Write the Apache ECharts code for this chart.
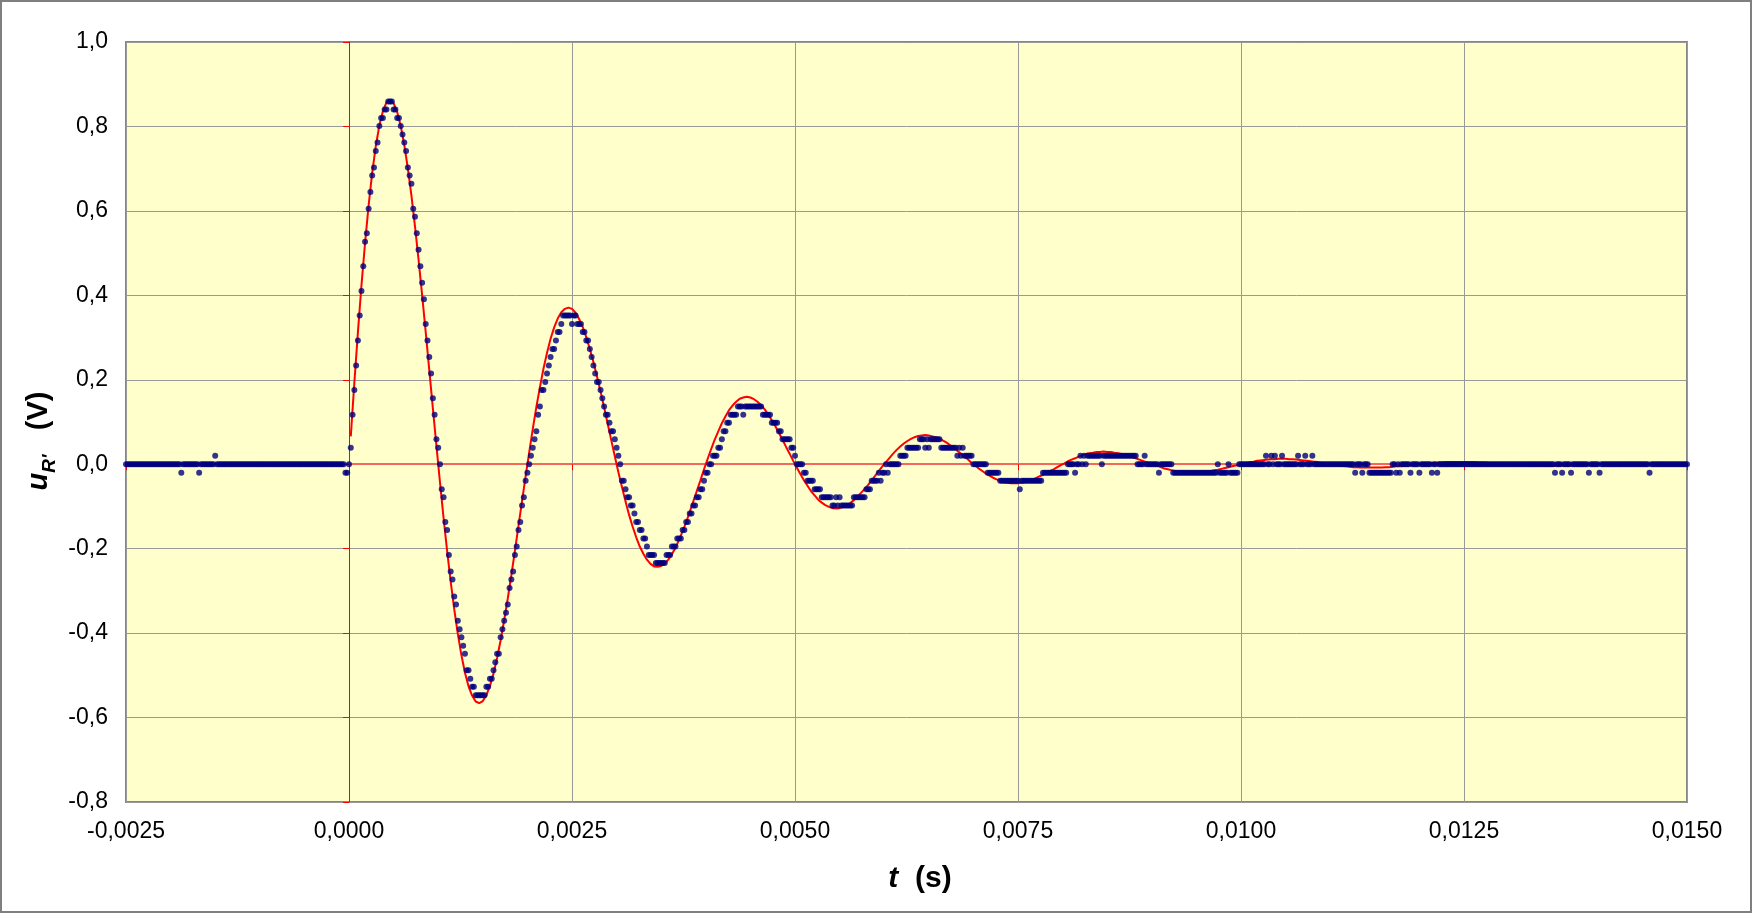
<!DOCTYPE html>
<html>
<head>
<meta charset="utf-8">
<title>u_R'(t)</title>
<script src="https://cdn.jsdelivr.net/npm/echarts@6/dist/echarts.min.js"></script>
<style>
  html, body { margin: 0; padding: 0; background: #fff; }
  #chart { width: 1752px; height: 914px; }
</style>
</head>
<body>
<div id="chart"></div>
<script>
// axes
var tMin = -0.0025, tMax = 0.015, tStep = 0.0025;
var uMin = -0.8, uMax = 1.0, uStep = 0.2;

// measured points (blue): one sample every 20 us from t = -2,5 ms
var sampleStart = -0.0025;
var sampleStep = 0.00002;
var preTrigger = [
  0,0,0,0,0, 0,0,0,0,0, 0,0,0,0,0, 0,0,0,0,0, 0,0,0,0,0,
  0,0,0,0,0, 0,-0.020,0,0,0, 0,0,0,0,0, 0,-0.020,0,0,0, 0,0,0,0,0,
  0.020,0,0,0,0, 0,0,0,0,0, 0,0,0,0,0, 0,0,0,0,0, 0,0,0,0,0,
  0,0,0,0,0, 0,0,0,0,0, 0,0,0,0,0, 0,0,0,0,0, 0,0,0,0,0,
  0,0,0,0,0, 0,0,0,0,0, 0,0,0,0,0, 0,0,0,0,0, 0,0,0,-0.020,-0.020
];
var measured = [
  0, 0.039, 0.117, 0.176, 0.234, 0.293, 0.352, 0.410, 0.469, 0.527,
  0.547, 0.605, 0.645, 0.684, 0.703, 0.742, 0.762, 0.801, 0.820, 0.820,
  0.840, 0.840, 0.859, 0.859, 0.859, 0.840, 0.840, 0.820, 0.820, 0.801,
  0.781, 0.762, 0.742, 0.703, 0.684, 0.664, 0.605, 0.586, 0.547, 0.508,
  0.469, 0.430, 0.391, 0.332, 0.293, 0.254, 0.215, 0.156, 0.117, 0.059,
  0.039, 0, -0.059, -0.078, -0.137, -0.156, -0.215, -0.254, -0.273, -0.313,
  -0.332, -0.371, -0.391, -0.410, -0.430, -0.449, -0.488, -0.488, -0.508, -0.527,
  -0.527, -0.547, -0.547, -0.547, -0.547, -0.547, -0.547, -0.527, -0.527, -0.508,
  -0.508, -0.488, -0.469, -0.449, -0.449, -0.410, -0.391, -0.371, -0.352, -0.332,
  -0.293, -0.273, -0.254, -0.215, -0.195, -0.156, -0.137, -0.098, -0.078, -0.039,
  -0.020, 0, 0.020, 0.039, 0.059, 0.078, 0.117, 0.137, 0.176, 0.176,
  0.195, 0.215, 0.234, 0.254, 0.273, 0.273, 0.293, 0.313, 0.313, 0.332,
  0.352, 0.352, 0.352, 0.352, 0.352, 0.332, 0.352, 0.352, 0.332, 0.332,
  0.332, 0.313, 0.313, 0.293, 0.293, 0.273, 0.254, 0.234, 0.215, 0.195,
  0.195, 0.176, 0.156, 0.137, 0.117, 0.117, 0.098, 0.078, 0.078, 0.059,
  0.039, 0.020, 0, -0.039, -0.039, -0.059, -0.078, -0.078, -0.098, -0.098,
  -0.117, -0.137, -0.137, -0.156, -0.156, -0.176, -0.176, -0.195, -0.215, -0.215,
  -0.215, -0.215, -0.234, -0.234, -0.234, -0.234, -0.234, -0.234, -0.215, -0.215,
  -0.215, -0.195, -0.195, -0.195, -0.176, -0.176, -0.176, -0.156, -0.156, -0.137,
  -0.137, -0.117, -0.117, -0.098, -0.098, -0.078, -0.078, -0.059, -0.059, -0.039,
  -0.020, -0.020, 0, 0, 0.020, 0.020, 0.020, 0.039, 0.039, 0.059,
  0.078, 0.078, 0.098, 0.098, 0.117, 0.117, 0.117, 0.117, 0.137, 0.137,
  0.137, 0.117, 0.137, 0.137, 0.137, 0.137, 0.137, 0.137, 0.137, 0.137,
  0.137, 0.137, 0.117, 0.117, 0.117, 0.117, 0.117, 0.098, 0.098, 0.098,
  0.098, 0.078, 0.078, 0.059, 0.059, 0.059, 0.059, 0.059, 0.039, 0.039,
  0.020, 0, 0, 0, 0, -0.020, -0.020, -0.039, -0.039, -0.039,
  -0.039, -0.059, -0.059, -0.059, -0.059, -0.078, -0.078, -0.078, -0.078, -0.078,
  -0.078, -0.098, -0.098, -0.078, -0.098, -0.078, -0.098, -0.098, -0.098, -0.098,
  -0.098, -0.098, -0.098, -0.078, -0.078, -0.078, -0.078, -0.078, -0.078, -0.078,
  -0.059, -0.059, -0.059, -0.039, -0.039, -0.039, -0.039, -0.020, -0.039, -0.020,
  -0.020, 0, -0.020, 0, 0, 0, 0, 0, 0, 0.020,
  0.020, 0.020, 0.020, 0.039, 0.039, 0.039, 0.039, 0.039, 0.039, 0.039,
  0.059, 0.059, 0.059, 0.039, 0.059, 0.039, 0.059, 0.059, 0.059, 0.059,
  0.059, 0.059, 0.039, 0.039, 0.039, 0.039, 0.039, 0.039, 0.039, 0.039,
  0.039, 0.020, 0.039, 0.020, 0.039, 0.020, 0.020, 0.020, 0.020, 0.020,
  0, 0, 0, 0, 0, 0, 0, 0, -0.020, -0.020,
  -0.020, -0.020, -0.020, -0.020, -0.020, -0.039, -0.039, -0.039, -0.039, -0.039,
  -0.039, -0.039, -0.039, -0.039, -0.039, -0.039, -0.059, -0.039, -0.039, -0.039,
  -0.039, -0.039, -0.039, -0.039, -0.039, -0.039, -0.039, -0.039, -0.039, -0.020,
  -0.020, -0.020, -0.020, -0.020, -0.020, -0.020, -0.020, -0.020, -0.020, -0.020,
  -0.020, -0.020, -0.020, 0, 0, 0, 0, -0.020, 0, 0,
  0.020, 0, 0.020, 0, 0.020, 0.020, 0.020, 0.020, 0.020, 0.020,
  0.020, 0.020, 0, 0.020, 0.020, 0.020, 0.020, 0.020, 0.020, 0.020,
  0.020, 0.020, 0.020, 0.020, 0.020, 0.020, 0.020, 0.020, 0.020, 0.020,
  0.020, 0.020, 0, 0, 0, 0, 0.020, 0, 0, 0,
  0, 0, 0, 0, -0.020, 0, 0, 0, 0, 0,
  0, 0, -0.020, -0.020, -0.020, -0.020, -0.020, -0.020, -0.020, -0.020,
  -0.020, -0.020, -0.020, -0.020, -0.020, -0.020, -0.020, -0.020, -0.020, -0.020,
  -0.020, -0.020, -0.020, -0.020, -0.020, -0.020, -0.020, 0, -0.020, -0.020,
  -0.020, -0.020, -0.020, 0, -0.020, -0.020, -0.020, -0.020, -0.020, 0,
  0, 0, 0, 0, 0, 0, 0, 0, 0, 0,
  0, 0, 0, 0, 0.020, 0, 0, 0.020, 0, 0.020,
  0, 0, 0, 0.020, 0, 0, 0, 0, 0, 0,
  0, 0, 0.020, 0, 0, 0, 0.020, 0, 0, 0,
  0.020, 0, 0, 0, 0, 0, 0, 0, 0, 0,
  0, 0, 0, 0, 0, 0, 0, 0, 0, 0,
  0, 0, 0, 0, -0.020, 0, 0, 0, -0.020, 0,
  0, 0, -0.020, -0.020, -0.020, -0.020, -0.020, -0.020, -0.020, -0.020,
  -0.020, -0.020, -0.020, -0.020, -0.020, 0, 0, -0.020, 0, -0.020,
  0, 0, 0, 0, 0, -0.020, 0, 0, 0, 0,
  -0.020, 0, 0, 0, 0, 0, 0, -0.020, 0, 0,
  -0.020, 0, 0, 0, 0, 0, 0, 0, 0, 0,
  0, 0, 0, 0, 0, 0, 0, 0, 0, 0,
  0, 0, 0, 0, 0, 0, 0, 0, 0, 0,
  0, 0, 0, 0, 0, 0, 0, 0, 0, 0,
  0, 0, 0, 0, 0, 0, 0, 0, 0, 0,
  0, 0, 0, 0, 0, 0, 0, 0, 0, 0,
  0, 0, 0, 0, 0, 0, -0.020, 0, 0, 0,
  -0.020, 0, 0, 0, 0, -0.020, 0, 0, 0, 0,
  0, 0, 0, 0, 0, -0.020, 0, 0, 0, 0,
  0, -0.020, 0, 0, 0, 0, 0, 0, 0, 0,
  0, 0, 0, 0, 0, 0, 0, 0, 0, 0,
  0, 0, 0, 0, 0, 0, 0, 0, 0, -0.020,
  0, 0, 0, 0, 0, 0, 0, 0, 0, 0,
  0, 0, 0, 0, 0, 0, 0, 0, 0, 0,
  0
];

// fitted curve (red): one point every 40 us from t = 20 us
var modelStart = 0.00002;
var modelStep = 0.00004;
var model = [
  0.066, 0.193, 0.313, 0.424, 0.524, 0.613, 0.690, 0.753, 0.802, 0.836, 0.857, 0.863, 0.855, 0.834, 0.801, 0.756, 0.700, 0.636, 0.563, 0.484, 0.400, 0.313, 0.223, 0.133, 0.044,
  -0.043, -0.127, -0.205, -0.278, -0.344, -0.402, -0.452, -0.494, -0.526, -0.548, -0.562, -0.566, -0.561, -0.547, -0.525, -0.496, -0.459, -0.417, -0.369, -0.318, -0.263, -0.205, -0.146, -0.087, -0.029,
  0.028, 0.083, 0.135, 0.182, 0.226, 0.264, 0.297, 0.324, 0.345, 0.360, 0.368, 0.371, 0.368, 0.359, 0.344, 0.325, 0.301, 0.273, 0.242, 0.208, 0.172, 0.135, 0.096, 0.057, 0.019,
  -0.019, -0.054, -0.088, -0.120, -0.148, -0.173, -0.195, -0.212, -0.226, -0.236, -0.242, -0.243, -0.241, -0.235, -0.226, -0.213, -0.198, -0.179, -0.159, -0.137, -0.113, -0.088, -0.063, -0.038, -0.012,
  0.012, 0.036, 0.058, 0.078, 0.097, 0.113, 0.128, 0.139, 0.148, 0.155, 0.158, 0.160, 0.158, 0.154, 0.148, 0.140, 0.130, 0.118, 0.104, 0.090, 0.074, 0.058, 0.041, 0.025, 0.008,
  -0.008, -0.023, -0.038, -0.051, -0.064, -0.074, -0.084, -0.091, -0.097, -0.101, -0.104, -0.105, -0.104, -0.101, -0.097, -0.092, -0.085, -0.077, -0.068, -0.059, -0.049, -0.038, -0.027, -0.016, -0.005,
  0.005, 0.015, 0.025, 0.034, 0.042, 0.049, 0.055, 0.060, 0.064, 0.067, 0.068, 0.069, 0.068, 0.066, 0.064, 0.060, 0.056, 0.051, 0.045, 0.039, 0.032, 0.025, 0.018, 0.011, 0.003,
  -0.003, -0.010, -0.016, -0.022, -0.027, -0.032, -0.036, -0.039, -0.042, -0.044, -0.045, -0.045, -0.045, -0.044, -0.042, -0.039, -0.037, -0.033, -0.029, -0.025, -0.021, -0.016, -0.012, -0.007, -0.002,
  0.002, 0.007, 0.011, 0.014, 0.018, 0.021, 0.024, 0.026, 0.027, 0.029, 0.029, 0.030, 0.029, 0.029, 0.027, 0.026, 0.024, 0.022, 0.019, 0.017, 0.014, 0.011, 0.008, 0.005, 0.002,
  -0.001, -0.004, -0.007, -0.010, -0.012, -0.014, -0.016, -0.017, -0.018, -0.019, -0.019, -0.019, -0.019, -0.019, -0.018, -0.017, -0.016, -0.014, -0.013, -0.011, -0.009, -0.007, -0.005, -0.003, -0.001,
  0.001, 0.003, 0.005, 0.006, 0.008, 0.009, 0.010, 0.011, 0.012, 0.012, 0.013, 0.013, 0.013, 0.012, 0.012, 0.011, 0.010, 0.009, 0.008, 0.007, 0.006, 0.005, 0.003, 0.002, 0.001,
  -0.001, -0.002, -0.003, -0.004, -0.005, -0.006, -0.007, -0.007, -0.008, -0.008, -0.008, -0.008, -0.008, -0.008, -0.008, -0.007, -0.007, -0.006, -0.005, -0.005, -0.004, -0.003, -0.002, -0.001, 0,
  0, 0.001, 0.002, 0.003, 0.003, 0.004, 0.004, 0.005, 0.005, 0.005, 0.005, 0.005, 0.005, 0.005, 0.005, 0.005, 0.004, 0.004, 0.004, 0.003, 0.003, 0.002, 0.001, 0.001, 0,
  0, -0.001, -0.001, -0.002, -0.002, -0.003, -0.003, -0.003, -0.003, -0.003, -0.004, -0.004, -0.004, -0.003, -0.003, -0.003, -0.003, -0.003, -0.002, -0.002, -0.002, -0.001, -0.001, -0.001, 0,
  0, 0.001, 0.001, 0.001, 0.001, 0.002, 0.002, 0.002, 0.002, 0.002, 0.002, 0.002, 0.002, 0.002, 0.002, 0.002, 0.002, 0.002, 0.002, 0.001, 0.001, 0.001, 0.001, 0, 0
];

var blueData = preTrigger.concat(measured).map(function (v, i) {
  return [sampleStart + i * sampleStep, v];
});
var redData = model.map(function (v, i) {
  return [modelStart + i * modelStep, v];
});

function comma(digits) {
  return function (v) {
    if (Math.abs(v) < 1e-12) v = 0;
    return v.toFixed(digits).replace('.', ',');
  };
}

var font = 'Liberation Sans';
var chart = echarts.init(document.getElementById('chart'));
var option = {
  animation: false,
  backgroundColor: '#ffffff',
  textStyle: { fontFamily: font },
  grid: {
    left: 126, right: 65, top: 42, bottom: 112,
    outerBoundsMode: 'none',
    show: true,
    backgroundColor: '#ffffcc',
    borderColor: '#868686',
    borderWidth: 2
  },
  xAxis: [
    {
      type: 'value', min: tMin, max: tMax, interval: tStep, position: 'bottom',
      axisLine: { show: false, onZero: false },
      axisTick: { show: false },
      axisLabel: { margin: 18, fontSize: 23, fontFamily: font, color: '#000', formatter: comma(4) },
      splitLine: { show: true, lineStyle: { color: '#999999', width: 1 } }
    },
    {
      type: 'value', min: tMin, max: tMax, interval: tStep, position: 'bottom',
      axisLine: { show: true, onZero: true, lineStyle: { color: '#f3675c', width: 2 } },
      axisTick: { show: true, length: 6, lineStyle: { color: '#ff0000', width: 1 } },
      axisLabel: { show: false },
      splitLine: { show: false }
    }
  ],
  yAxis: [
    {
      type: 'value', min: uMin, max: uMax, interval: uStep, position: 'left',
      axisLine: { show: false, onZero: false },
      axisTick: { show: false },
      axisLabel: { margin: 18, fontSize: 23, fontFamily: font, color: '#000', formatter: comma(1) },
      splitLine: { show: true, lineStyle: { color: '#999999', width: 1 } }
    },
    {
      type: 'value', min: uMin, max: uMax, interval: uStep, position: 'left',
      axisLine: { show: true, onZero: true, lineStyle: { color: '#ff0000', width: 1 } },
      axisTick: { show: true, length: 6, lineStyle: { color: '#ff0000', width: 1 } },
      axisLabel: { show: false },
      splitLine: { show: false }
    }
  ],
  series: [
    {
      name: 'modele', type: 'line', xAxisIndex: 0, yAxisIndex: 0,
      data: redData, showSymbol: false, smooth: false,
      lineStyle: { color: '#ff0000', width: 2 }, z: 2
    },
    {
      name: 'mesure', type: 'scatter', xAxisIndex: 0, yAxisIndex: 0,
      data: blueData, symbol: 'circle', symbolSize: 6,
      itemStyle: { color: '#000080' }, z: 3
    }
  ],
  graphic: [
    {
      type: 'rect', silent: true, z: 100,
      shape: { x: 1, y: 1, width: 1750, height: 911 },
      style: { fill: 'none', stroke: '#7f7f7f', lineWidth: 2 }
    },
    {
      type: 'text', silent: true, x: 42, y: 441, rotation: Math.PI / 2,
      style: {
        text: '{u|u}{r|R\'}{v|   (V)}',
        align: 'center', verticalAlign: 'middle', fill: '#000',
        rich: {
          u: { fontFamily: font, fontSize: 29, fontWeight: 'bold', fontStyle: 'italic', padding: [0, 0, 6, 0], verticalAlign: 'bottom' },
          r: { fontFamily: font, fontSize: 19, fontWeight: 'bold', fontStyle: 'italic', verticalAlign: 'bottom' },
          v: { fontFamily: font, fontSize: 29, fontWeight: 'bold', padding: [0, 0, 6, 0], verticalAlign: 'bottom' }
        }
      }
    },
    {
      type: 'text', silent: true, x: 920, y: 879,
      style: {
        text: '{t|t}{s|  (s)}',
        align: 'center', verticalAlign: 'middle', fill: '#000',
        rich: {
          t: { fontFamily: font, fontSize: 30, fontWeight: 'bold', fontStyle: 'italic' },
          s: { fontFamily: font, fontSize: 30, fontWeight: 'bold' }
        }
      }
    }
  ]
};
chart.setOption(option);
</script>
</body>
</html>
